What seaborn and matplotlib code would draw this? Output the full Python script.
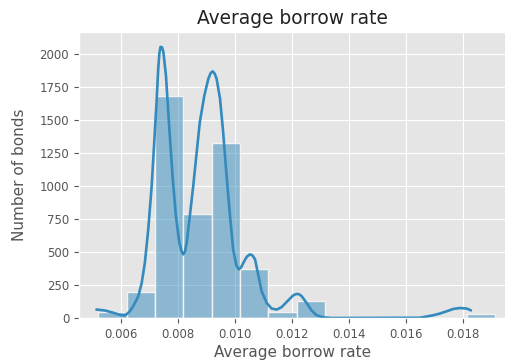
import numpy as np
import pandas as pd
import matplotlib
matplotlib.use("Agg")
import matplotlib.pyplot as plt
import seaborn as sns

# Histogram: 14 equal-width bins between the smallest and largest rate
bin_low, bin_high, n_bins = 0.0052, 0.01914, 14
bond_counts = [45, 200, 1685, 790, 1330, 370, 42, 132, 0, 0, 0, 0, 0, 33]

# Density estimate, scaled to bond counts
kde_rate = [0.00515, 0.00544, 0.00573, 0.00600, 0.00615, 0.00630, 0.00643,
            0.00661, 0.00673, 0.00684, 0.00696, 0.00708, 0.00717, 0.00725,
            0.00731, 0.00735, 0.00739, 0.00744, 0.00749, 0.00758, 0.00770,
            0.00782, 0.00793, 0.00805, 0.00812, 0.00819, 0.00825, 0.00831,
            0.00842, 0.00854, 0.00866, 0.00877, 0.00893, 0.00907, 0.00915,
            0.00922, 0.00929, 0.00936, 0.00948, 0.00959, 0.00971, 0.00983,
            0.00994, 0.01006, 0.01014, 0.01022, 0.01030, 0.01042, 0.01053,
            0.01062, 0.01071, 0.01082, 0.01094, 0.01112, 0.01129, 0.01147,
            0.01164, 0.01188, 0.01205, 0.01217, 0.01226, 0.01235, 0.01252,
            0.01270, 0.01287, 0.01311, 0.01340, 0.01650, 0.01697, 0.01720,
            0.01744, 0.01767, 0.01791, 0.01814, 0.01828]
kde_count = [64, 57, 40, 22, 20, 48, 89,
             165, 267, 419, 674, 1004, 1334, 1638,
             1893, 2010, 2057, 2055, 2019, 1842, 1436,
             1055, 775, 572, 510, 483, 505, 572,
             775, 1004, 1257, 1486, 1689, 1816, 1858,
             1872, 1855, 1816, 1664, 1410, 1080, 775,
             521, 394, 369, 385, 419, 465, 483,
             475, 445, 331, 203, 114, 72, 64,
             82, 135, 172, 183, 180, 165, 114,
             56, 21, 5, 0, 2, 21, 34,
             51, 69, 76, 72, 59]

x_ticks = [0.006, 0.008, 0.010, 0.012, 0.014, 0.016, 0.018]
y_ticks = [0, 250, 500, 750, 1000, 1250, 1500, 1750, 2000]

plt.style.use("ggplot")
color = "#348ABD"

width = (bin_high - bin_low) / n_bins
centers = [bin_low + (i + 0.5) * width for i in range(n_bins)]
hist_df = pd.DataFrame({"rate": centers, "bonds": bond_counts})
kde_df = pd.DataFrame({"rate": kde_rate, "bonds": kde_count})

fig = plt.figure(figsize=(5.06, 3.62), dpi=100)
ax = fig.add_axes([0.156, 0.1215, 0.844, 0.790])

sns.histplot(data=hist_df, x="rate", weights="bonds", bins=n_bins,
             binrange=(bin_low, bin_high), color=color, alpha=0.5,
             edgecolor="#F2F2F2", linewidth=1.0, ax=ax)
sns.lineplot(data=kde_df, x="rate", y="bonds", color=color, linewidth=1.9,
             estimator=None, ax=ax)

ax.set_xlim(0.004525, 0.019523)
ax.set_ylim(0, 2170)
ax.set_xticks(x_ticks)
ax.set_xticklabels([f"{t:.3f}" for t in x_ticks])
ax.set_yticks(y_ticks)
ax.tick_params(labelsize=8.5, colors="#555555", length=3.5)
ax.set_xlabel("Average borrow rate", fontsize=11, color="#555555", labelpad=3)
ax.set_ylabel("Number of bonds", fontsize=11, color="#555555", labelpad=9)
ax.set_title("Average borrow rate", fontsize=13.4, color="#222222", pad=6)

fig.savefig("out.png", dpi=100)
